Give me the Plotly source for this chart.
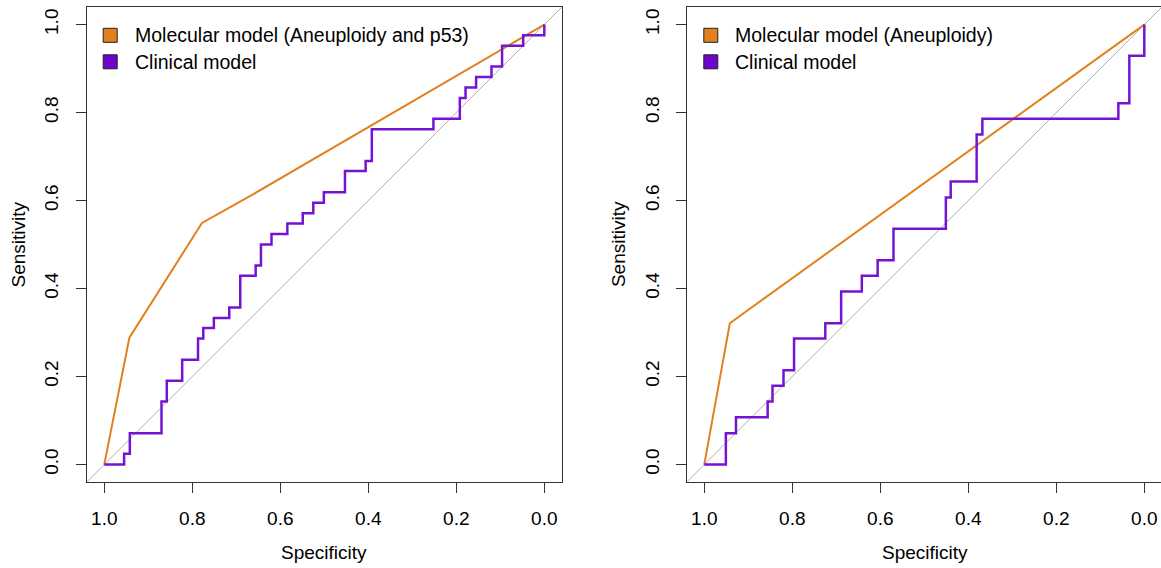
import plotly.graph_objects as go

W, H = 1161, 568

# ---------------- data (specificity, sensitivity) ----------------
# Left panel
left_mol_spec = [1.0, 0.943, 0.778, 0.669, 0.0]
left_mol_sens = [0.0, 0.288, 0.549, 0.610, 1.0]

left_cli_spec = [1.0, 0.955, 0.942, 0.870, 0.858, 0.823, 0.787, 0.775, 0.751, 0.716,
                 0.691, 0.656, 0.644, 0.620, 0.584, 0.549, 0.525, 0.501, 0.453, 0.406,
                 0.392, 0.252, 0.192, 0.179, 0.155, 0.120, 0.096, 0.048, 0.0]
left_cli_sens = [0.0, 0.024, 0.071, 0.143, 0.190, 0.238, 0.286, 0.310, 0.333, 0.357,
                 0.429, 0.452, 0.500, 0.524, 0.548, 0.571, 0.595, 0.619, 0.667, 0.690,
                 0.762, 0.786, 0.833, 0.857, 0.881, 0.905, 0.952, 0.976, 1.0]

# Right panel
right_mol_spec = [1.0, 0.942, 0.0]
right_mol_sens = [0.0, 0.321, 1.0]

right_cli_spec = [1.0, 0.951, 0.928, 0.856, 0.845, 0.820, 0.796, 0.725, 0.689, 0.642,
                  0.606, 0.570, 0.451, 0.440, 0.381, 0.368, 0.059, 0.034, 0.0]
right_cli_sens = [0.0, 0.071, 0.107, 0.143, 0.179, 0.214, 0.286, 0.321, 0.393, 0.429,
                  0.464, 0.536, 0.607, 0.643, 0.750, 0.786, 0.821, 0.929, 1.0]

chance_x = [1.2, -0.2]
chance_y = [-0.2, 1.2]

tick_vals = [0.0, 0.2, 0.4, 0.6, 0.8, 1.0]
tick_text = ["0.0", "0.2", "0.4", "0.6", "0.8", "1.0"]

left_labels = ["Molecular model (Aneuploidy and p53)", "Clinical model"]
right_labels = ["Molecular model (Aneuploidy)", "Clinical model"]

ORANGE = "#E2801F"
PURPLE = "#7414D2"
PURPLE_FILL = "#6C06CC"
GREY = "#AFAFAF"
AXC = "#333333"
FONT = "Liberation Sans, Arial, Helvetica, sans-serif"
FS = 19
FS_LEG = 19.5

fig = go.Figure()

def add_panel(xa, ya, mol_x, mol_y, cli_x, cli_y):
    fig.add_trace(go.Scatter(x=chance_x, y=chance_y, mode="lines",
                             line=dict(color=GREY, width=1), xaxis=xa, yaxis=ya,
                             showlegend=False, hoverinfo="skip"))
    fig.add_trace(go.Scatter(x=mol_x, y=mol_y, mode="lines",
                             line=dict(color=ORANGE, width=2), xaxis=xa, yaxis=ya,
                             showlegend=False))
    fig.add_trace(go.Scatter(x=cli_x, y=cli_y, mode="lines",
                             line=dict(color=PURPLE, width=2.5, shape="hv"),
                             xaxis=xa, yaxis=ya, showlegend=False))

add_panel("x", "y", left_mol_spec, left_mol_sens, left_cli_spec, left_cli_sens)
add_panel("x2", "y2", right_mol_spec, right_mol_sens, right_cli_spec, right_cli_sens)

# pixel geometry of the plot boxes
L_left, L_right = 86.7, 561.7
R_left, R_right = 687.3, 1161.0
top_px, bot_px = 7.0, 482.0
ppu = 440.0  # pixels per unit

def fx(px):
    return px / W

def fy(py):
    return 1 - py / H

def axis_common():
    return dict(tickmode="array", tickvals=tick_vals, ticktext=tick_text,
                ticks="outside", ticklen=10, tickwidth=1.3, tickcolor=AXC,
                showline=True, linecolor=AXC, linewidth=1.3,
                showgrid=False, zeroline=False,
                tickfont=dict(family=FONT, size=FS, color="black"))

l_x0 = 1 + 17.6 / ppu
l_x1 = l_x0 - (L_right - L_left) / ppu
r_x0 = 1 + 17.0 / ppu
r_x1 = r_x0 - (R_right - R_left) / ppu

xa1 = axis_common(); xa1.update(domain=[fx(L_left), fx(L_right)], range=[l_x0, l_x1], mirror=True,
                                anchor="y", ticklabelstandoff=9)
xa2 = axis_common(); xa2.update(domain=[fx(R_left), fx(R_right)], range=[r_x0, r_x1], mirror=True,
                                anchor="y2", ticklabelstandoff=9)
ya1 = axis_common(); ya1.update(domain=[fy(bot_px), fy(top_px)], range=[-0.04, 1.04], mirror=True,
                                anchor="x", tickangle=-90, ticklabelstandoff=10)
ya2 = axis_common(); ya2.update(domain=[fy(bot_px), fy(top_px)], range=[-0.04, 1.04], mirror=False,
                                anchor="x2", tickangle=-90, ticklabelstandoff=10)

fig.update_layout(
    width=W, height=H,
    margin=dict(l=0, r=0, t=0, b=0),
    paper_bgcolor="white", plot_bgcolor="white",
    xaxis=xa1, yaxis=ya1, xaxis2=xa2, yaxis2=ya2,
    font=dict(family=FONT, size=FS, color="black"),
)

annotations = []
shapes = []

for box_left, box_right in [(L_left, L_right), (R_left, 1162.3)]:
    cx = (box_left + box_right) / 2
    annotations.append(dict(text="Specificity", x=fx(cx), y=fy(552), xref="paper", yref="paper",
                            showarrow=False, xanchor="center", yanchor="middle",
                            font=dict(family=FONT, size=FS, color="black")))
    annotations.append(dict(text="Sensitivity", x=fx(box_left - 68.7), y=fy((top_px + bot_px) / 2),
                            xref="paper", yref="paper", showarrow=False, textangle=-90,
                            xanchor="center", yanchor="middle",
                            font=dict(family=FONT, size=FS, color="black")))

for box_left, labels in [(L_left, left_labels), (R_left, right_labels)]:
    for i, (lab, col) in enumerate(zip(labels, [ORANGE, PURPLE_FILL])):
        cy = 35.3 + i * 26.5
        sx = box_left + 23.5
        shapes.append(dict(type="rect", xref="paper", yref="paper",
                           x0=fx(sx - 7), x1=fx(sx + 7), y0=fy(cy + 7), y1=fy(cy - 7),
                           fillcolor=col, line=dict(color="#222222", width=1)))
        annotations.append(dict(text=lab, x=fx(box_left + 46), y=fy(cy), xref="paper", yref="paper",
                                showarrow=False, xanchor="left", yanchor="middle",
                                font=dict(family=FONT, size=FS_LEG, color="black")))

fig.update_layout(annotations=annotations, shapes=shapes)

fig.write_html("out.html")
